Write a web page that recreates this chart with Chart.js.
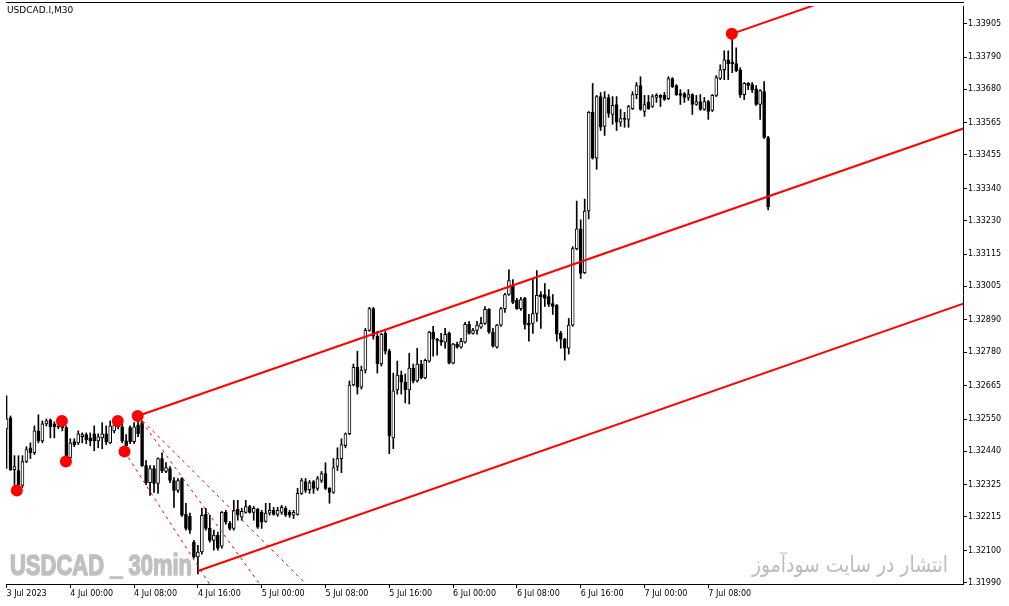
<!DOCTYPE html>
<html>
<head>
<meta charset="utf-8">
<script src="https://cdn.jsdelivr.net/npm/chart.js@4.4.1/dist/chart.umd.min.js"></script>
<style>
  html, body { margin: 0; padding: 0; background: #fff; }
  #wrap { width: 1009px; height: 606px; position: relative; }
</style>
</head>
<body>
<div id="wrap"><canvas id="chart"></canvas></div>
<script>
// USDCAD.I M30 candles, bar 0 = 3 Jul 16:00
const opens = [
  1.32517,1.32555,1.32377,1.32374,1.32323,1.32405,1.32452,1.32435,1.32510,1.32476,
  1.32534,1.32548,1.32534,1.32524,1.32531,1.32521,1.32418,1.32473,1.32469,1.32490,
  1.32497,1.32486,1.32500,1.32476,1.32486,1.32500,1.32469,1.32510,1.32538,1.32524,
  1.32476,1.32521,1.32473,1.32531,1.32538,1.32391,1.32333,1.32381,1.32330,1.32415,
  1.32371,1.32381,1.32340,1.32306,1.32347,1.32224,1.32217,1.32129,1.32078,1.32095,
  1.32224,1.32176,1.32135,1.32153,1.32115,1.32231,1.32193,1.32176,1.32241,1.32214,
  1.32231,1.32251,1.32231,1.32241,1.32231,1.32200,1.32228,1.32238,1.32224,1.32231,
  1.32245,1.32231,1.32221,1.32224,1.32296,1.32336,1.32309,1.32336,1.32313,1.32340,
  1.32364,1.32313,1.32299,1.32388,1.32415,1.32459,1.32500,1.32667,1.32728,1.32660,
  1.32718,1.32854,1.32929,1.32834,1.32739,1.32844,1.32783,1.32486,1.32650,1.32701,
  1.32677,1.32650,1.32725,1.32681,1.32739,1.32691,1.32749,1.32848,1.32824,1.32820,
  1.32814,1.32844,1.32742,1.32807,1.32797,1.32814,1.32875,1.32844,1.32854,1.32865,
  1.32878,1.32926,1.32848,1.32797,1.32872,1.32929,1.32977,1.33008,1.32957,1.32929,
  1.32964,1.32878,1.32878,1.32912,1.32977,1.32977,1.32970,1.32946,1.32940,1.32844,
  1.32824,1.32793,1.32872,1.33134,1.33202,1.33052,1.33263,1.33601,1.33444,1.33655,
  1.33553,1.33652,1.33594,1.33628,1.33567,1.33580,1.33577,1.33614,1.33662,1.33693,
  1.33604,1.33635,1.33621,1.33652,1.33659,1.33659,1.33648,1.33717,1.33693,1.33665,
  1.33665,1.33652,1.33662,1.33628,1.33638,1.33611,1.33638,1.33608,1.33659,1.33717,
  1.33747,1.33781,1.33774,1.33768,1.33747,1.33662,1.33700,1.33696,1.33682,1.33628,
  1.33672,1.33515
];
const highs = [
  1.32630,1.32561,1.32425,1.32425,1.32425,1.32456,1.32469,1.32527,1.32565,1.32544,
  1.32551,1.32551,1.32541,1.32544,1.32548,1.32527,1.32483,1.32483,1.32510,1.32503,
  1.32503,1.32503,1.32527,1.32500,1.32538,1.32527,1.32544,1.32551,1.32544,1.32538,
  1.32497,1.32527,1.32538,1.32561,1.32544,1.32408,1.32391,1.32391,1.32418,1.32435,
  1.32401,1.32388,1.32350,1.32347,1.32350,1.32262,1.32228,1.32135,1.32118,1.32245,
  1.32245,1.32221,1.32170,1.32163,1.32234,1.32238,1.32200,1.32272,1.32272,1.32245,
  1.32272,1.32255,1.32251,1.32245,1.32238,1.32262,1.32262,1.32248,1.32248,1.32255,
  1.32251,1.32238,1.32238,1.32313,1.32347,1.32347,1.32340,1.32340,1.32354,1.32371,
  1.32401,1.32316,1.32415,1.32452,1.32483,1.32503,1.32681,1.32739,1.32783,1.32732,
  1.32861,1.32933,1.32933,1.32851,1.32844,1.32851,1.32790,1.32708,1.32749,1.32715,
  1.32705,1.32776,1.32739,1.32793,1.32752,1.32756,1.32851,1.32868,1.32827,1.32844,
  1.32861,1.32848,1.32810,1.32814,1.32827,1.32882,1.32885,1.32861,1.32885,1.32899,
  1.32936,1.32929,1.32861,1.32875,1.32933,1.32981,1.33062,1.33028,1.32964,1.32967,
  1.32967,1.32909,1.33032,1.33059,1.32987,1.33015,1.32994,1.32977,1.32943,1.32851,
  1.32827,1.32895,1.33141,1.33297,1.33233,1.33304,1.33604,1.33700,1.33659,1.33669,
  1.33672,1.33662,1.33655,1.33655,1.33611,1.33601,1.33625,1.33672,1.33703,1.33723,
  1.33659,1.33659,1.33662,1.33665,1.33662,1.33669,1.33723,1.33720,1.33696,1.33679,
  1.33669,1.33679,1.33665,1.33659,1.33662,1.33652,1.33642,1.33662,1.33727,1.33764,
  1.33812,1.33812,1.33877,1.33822,1.33754,1.33703,1.33703,1.33703,1.33693,1.33679,
  1.33706,1.33519
];
const lows = [
  1.32381,1.32374,1.32323,1.32313,1.32316,1.32401,1.32415,1.32429,1.32469,1.32469,
  1.32527,1.32486,1.32486,1.32517,1.32510,1.32405,1.32411,1.32456,1.32463,1.32469,
  1.32466,1.32459,1.32442,1.32452,1.32449,1.32463,1.32466,1.32503,1.32517,1.32469,
  1.32435,1.32466,1.32466,1.32490,1.32388,1.32326,1.32289,1.32299,1.32296,1.32367,
  1.32367,1.32333,1.32248,1.32299,1.32217,1.32170,1.32159,1.32074,1.32020,1.32088,
  1.32170,1.32129,1.32101,1.32101,1.32108,1.32190,1.32170,1.32170,1.32204,1.32204,
  1.32228,1.32228,1.32204,1.32176,1.32176,1.32197,1.32221,1.32221,1.32217,1.32224,
  1.32217,1.32214,1.32210,1.32221,1.32292,1.32299,1.32296,1.32296,1.32306,1.32333,
  1.32309,1.32262,1.32296,1.32374,1.32367,1.32452,1.32497,1.32664,1.32636,1.32653,
  1.32708,1.32851,1.32824,1.32708,1.32732,1.32773,1.32432,1.32449,1.32636,1.32636,
  1.32606,1.32602,1.32674,1.32677,1.32688,1.32688,1.32745,1.32766,1.32769,1.32803,
  1.32793,1.32739,1.32739,1.32793,1.32793,1.32810,1.32841,1.32841,1.32841,1.32861,
  1.32875,1.32844,1.32797,1.32793,1.32868,1.32916,1.32974,1.32946,1.32926,1.32923,
  1.32858,1.32817,1.32844,1.32885,1.32861,1.32936,1.32936,1.32909,1.32817,1.32793,
  1.32752,1.32773,1.32868,1.33130,1.33032,1.33049,1.33236,1.33441,1.33406,1.33539,
  1.33522,1.33584,1.33560,1.33539,1.33553,1.33550,1.33550,1.33611,1.33648,1.33608,
  1.33587,1.33611,1.33618,1.33635,1.33621,1.33642,1.33645,1.33686,1.33659,1.33628,
  1.33635,1.33642,1.33594,1.33625,1.33608,1.33608,1.33577,1.33604,1.33655,1.33713,
  1.33713,1.33713,1.33737,1.33740,1.33652,1.33645,1.33679,1.33669,1.33625,1.33577,
  1.33512,1.33267
];
const closes = [
  1.32551,1.32377,1.32388,1.32323,1.32405,1.32446,1.32435,1.32510,1.32476,1.32534,
  1.32544,1.32524,1.32524,1.32538,1.32521,1.32418,1.32469,1.32463,1.32500,1.32497,
  1.32480,1.32476,1.32476,1.32490,1.32500,1.32473,1.32527,1.32531,1.32524,1.32476,
  1.32459,1.32473,1.32524,1.32500,1.32391,1.32333,1.32381,1.32330,1.32415,1.32374,
  1.32384,1.32340,1.32306,1.32340,1.32221,1.32176,1.32170,1.32078,1.32095,1.32221,
  1.32176,1.32135,1.32153,1.32108,1.32231,1.32197,1.32176,1.32238,1.32221,1.32234,
  1.32251,1.32231,1.32245,1.32180,1.32197,1.32228,1.32238,1.32224,1.32238,1.32248,
  1.32221,1.32221,1.32231,1.32296,1.32340,1.32306,1.32333,1.32313,1.32347,1.32364,
  1.32313,1.32299,1.32384,1.32415,1.32463,1.32500,1.32667,1.32728,1.32660,1.32718,
  1.32854,1.32929,1.32834,1.32739,1.32841,1.32783,1.32493,1.32647,1.32701,1.32677,
  1.32650,1.32725,1.32681,1.32739,1.32691,1.32752,1.32848,1.32824,1.32820,1.32814,
  1.32841,1.32742,1.32807,1.32797,1.32817,1.32875,1.32844,1.32854,1.32872,1.32878,
  1.32926,1.32848,1.32800,1.32872,1.32929,1.32977,1.33025,1.32950,1.32929,1.32960,
  1.32875,1.32872,1.32912,1.32974,1.32970,1.32964,1.32943,1.32936,1.32841,1.32824,
  1.32793,1.32872,1.33134,1.33202,1.33049,1.33263,1.33601,1.33444,1.33655,1.33550,
  1.33652,1.33597,1.33625,1.33567,1.33580,1.33577,1.33621,1.33662,1.33693,1.33611,
  1.33628,1.33614,1.33655,1.33659,1.33652,1.33645,1.33717,1.33689,1.33662,1.33659,
  1.33652,1.33662,1.33628,1.33638,1.33611,1.33638,1.33604,1.33659,1.33720,1.33747,
  1.33781,1.33768,1.33768,1.33744,1.33662,1.33700,1.33693,1.33679,1.33628,1.33676,
  1.33515,1.33277
];
const bars = opens.map((_, i) => i);

const xTickBars = [0, 16, 32, 48, 64, 80, 96, 112, 128, 144, 160, 176];
const xTickLabels = ['3 Jul 2023', '4 Jul 00:00', '4 Jul 08:00', '4 Jul 16:00', '5 Jul 00:00', '5 Jul 08:00',
  '5 Jul 16:00', '6 Jul 00:00', '6 Jul 08:00', '6 Jul 16:00', '7 Jul 00:00', '7 Jul 08:00'];
const yTickLabels = [1.31990, 1.32100, 1.32215, 1.32325, 1.32440, 1.32550, 1.32665, 1.32780, 1.32890,
  1.33005, 1.33115, 1.33230, 1.33340, 1.33455, 1.33565, 1.33680, 1.33790, 1.33905];

// swing dots (bar position as read, price)
const pivotBars = [2.6, 13.9, 14.9, 27.9, 29.6, 32.9, 181.9];
const pivotPrices = [1.32306, 1.32544, 1.32405, 1.32544, 1.32439, 1.32561, 1.33870];

// equidistant channel (bar, price)
const channelMid = [[32.9, 1.32561], [240, 1.33546]];
const channelLow = [[48, 1.32030], [240, 1.32946]];
const channelUp = [[181.9, 1.33870], [240, 1.34146]];

// dashed rays
const dashA = [[32.9, 1.32561], [70, 1.31863]];
const dashB = [[29.6, 1.32439], [55, 1.31898]];
const dashC = [[32.9, 1.32561], [80, 1.31919]];

const toPts = arr => arr.map(p => ({ x: p[0], y: p[1] }));
const font = { family: 'DejaVu Sans', size: 8 };

const lineDs = (pts, width, dash) => ({
  type: 'line',
  data: toPts(pts),
  borderColor: '#ff0000',
  borderWidth: width,
  borderDash: dash || [],
  pointRadius: 0,
  tension: 0,
  clip: 0,
  order: dash ? 2 : 1
});

const texts = {
  id: 'texts',
  beforeDatasetsDraw(chart) {
    const ctx = chart.ctx;
    ctx.save();
    ctx.fillStyle = '#c0c0c0';
    ctx.strokeStyle = '#c0c0c0';
    ctx.lineWidth = 1.6;
    ctx.lineJoin = 'round';
    ctx.font = 'bold 30px "Liberation Sans", sans-serif';
    ctx.textAlign = 'left';
    ctx.textBaseline = 'alphabetic';
    ctx.fillText('USDCAD _ 30min', 10, 575, 182);
    ctx.strokeText('USDCAD _ 30min', 10, 575, 182);
    ctx.fillStyle = '#bcbcbc';
    ctx.font = '22px "DejaVu Sans", sans-serif';
    ctx.textAlign = 'right';
    ctx.fillText('انتشار در سایت سودآموز', 948, 572, 196);
    ctx.restore();
  },
  afterDraw(chart) {
    const ctx = chart.ctx;
    const a = chart.chartArea;
    ctx.save();
    ctx.strokeStyle = '#000';
    ctx.lineWidth = 1;
    ctx.beginPath();
    ctx.moveTo(a.left, 2.5);
    ctx.lineTo(a.right + 1, 2.5);
    ctx.stroke();
    ctx.fillStyle = '#000';
    ctx.font = '9px "DejaVu Sans"';
    ctx.textAlign = 'left';
    ctx.textBaseline = 'middle';
    ctx.fillText('USDCAD.I,M30', 7, 11);
    ctx.restore();
  }
};

new Chart(document.getElementById('chart'), {
  type: 'bar',
  data: {
    datasets: [
      {
        data: bars.map(i => ({ x: i, y: [lows[i], highs[i]] })),
        backgroundColor: '#000',
        borderWidth: 0,
        barThickness: 1,
        grouped: false,
        order: 4
      },
      {
        data: bars.map(i => ({ x: i, y: [opens[i], closes[i]] })),
        backgroundColor: bars.map(i => closes[i] > opens[i] ? '#ffffff' : '#000000'),
        borderColor: '#000',
        borderWidth: 1,
        borderSkipped: false,
        barThickness: 3,
        minBarLength: 1,
        grouped: false,
        order: 3
      },
      lineDs(dashA, 1, [3, 4]),
      lineDs(dashB, 1, [3, 4]),
      lineDs(dashC, 1, [3, 4]),
      lineDs(channelMid, 2),
      lineDs(channelLow, 2),
      lineDs(channelUp, 2),
      {
        type: 'scatter',
        data: pivotBars.map((b, k) => ({ x: b, y: pivotPrices[k] })),
        backgroundColor: '#ff0000',
        borderWidth: 0,
        pointRadius: 6,
        pointHoverRadius: 6,
        order: 0
      }
    ]
  },
  options: {
    responsive: true,
    maintainAspectRatio: false,
    animation: false,
    events: [],
    layout: { padding: { left: 3, top: 3, right: 0, bottom: 0 } },
    plugins: { legend: { display: false }, tooltip: { enabled: false } },
    scales: {
      x: {
        type: 'linear',
        min: -0.125,
        max: 239.875,
        offset: false,
        grid: { drawOnChartArea: false, drawTicks: true, tickLength: 4, color: '#000', offset: false },
        border: { display: true, color: '#000' },
        ticks: {
          autoSkip: false, maxRotation: 0, align: 'start', padding: 1, color: '#000', font: font,
          callback: (v, i) => xTickLabels[i]
        },
        afterBuildTicks: s => { s.ticks = xTickBars.map(v => ({ value: v })); },
        afterFit: s => { s.height = 22; }
      },
      y: {
        position: 'right',
        min: 1.319855,
        max: 1.339653,
        grid: { drawOnChartArea: false, drawTicks: true, tickLength: 4, color: '#000' },
        border: { display: true, color: '#000' },
        ticks: {
          padding: 1, color: '#000', font: font,
          callback: v => v.toFixed(5)
        },
        afterBuildTicks: s => { s.ticks = yTickLabels.map(v => ({ value: v })); },
        afterFit: s => { s.width = 46; }
      }
    }
  },
  plugins: [texts]
});
</script>
</body>
</html>
